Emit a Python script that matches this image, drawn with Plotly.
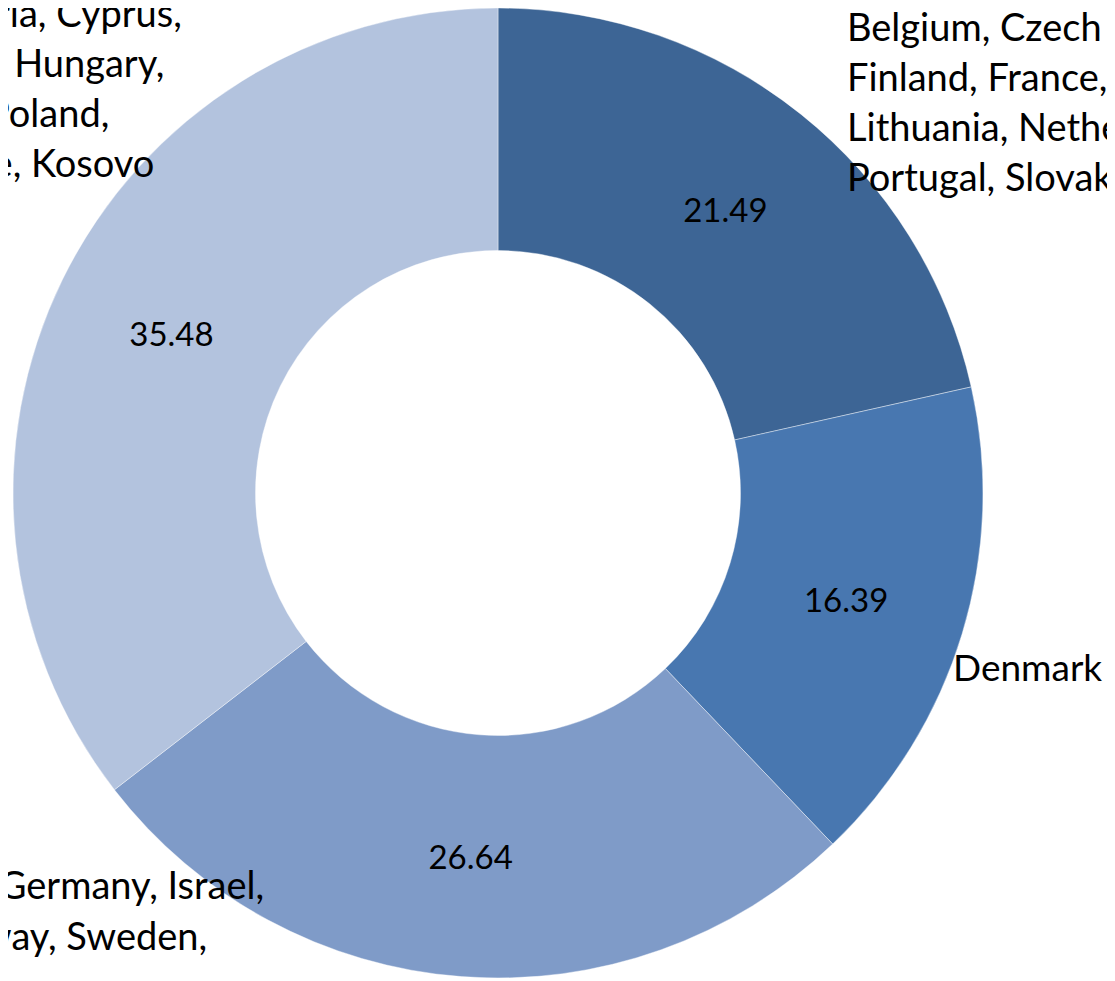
import plotly.graph_objects as go

# page body has an 8px margin, so the figure is drawn 8px in from the window corner
OFF = 8
W, H = 1115 - OFF, 981 - OFF

categories = ["Group A", "Denmark", "Group C", "Group D"]
values = [21.49, 16.39, 26.64, 35.48]
colors = ["#3D6595", "#4877B0", "#7F9BC8", "#B3C3DE"]

label_top_right = ["Belgium, Czech Republic,", "Finland, France, Latvia,",
                   "Lithuania, Netherlands,", "Portugal, Slovakia,"]
label_right = ["Denmark"]
label_bottom_left = ["Austria, Germany, Israel,", "Norway, Sweden,"]
label_top_left = ["Bulgaria, Cyprus,", "Croatia, Hungary,", "Poland,", "Ukraine, Kosovo"]

FONT = "Lato, Carlito, Calibri, sans-serif"
FS_OUT = 38
FS_IN = 33

# window-pixel geometry of the ring
cx, cy, R = 498, 493, 485
fx, fy = cx - OFF, cy - OFF

fig = go.Figure(go.Pie(
    labels=categories,
    values=values,
    hole=0.5,
    sort=False,
    direction="clockwise",
    rotation=0,
    marker=dict(colors=colors, line=dict(color="rgba(255,255,255,0.5)", width=0.8)),
    texttemplate="%{value:.2f}",
    textposition="inside",
    insidetextorientation="horizontal",
    textfont=dict(family=FONT, size=FS_IN, color="black"),
    domain=dict(x=[max(0, (fx - R) / W), (fx + R) / W],
                y=[max(0, 1 - (fy + R) / H), min(1, 1 - (fy - R) / H)]),
    showlegend=False,
    hoverinfo="label+value",
))


def add_line(text, xpx, ypx, anchor, size=FS_OUT):
    dx = -3 if anchor == "left" else 3
    fig.add_annotation(
        x=(xpx - OFF + dx) / W, y=1 - (ypx - OFF - 1) / H,
        xref="paper", yref="paper",
        text=text, showarrow=False, xanchor=anchor, yanchor="middle",
        align=anchor, font=dict(family=FONT, size=size, color="black"),
    )


for t, yy in zip(label_top_right, [27, 77, 127, 177]):
    add_line(t, 848, yy, "left")
for t in label_right:
    add_line(t, 954, 667, "left", size=37)
for t, xe, yy in zip(label_bottom_left, [263, 206], [885, 936]):
    add_line(t, xe, yy, "right")
for t, xe, yy in zip(label_top_left, [181, 164, 108, 153], [13, 63, 113, 163]):
    add_line(t, xe, yy, "right")

fig.update_layout(
    width=W, height=H,
    margin=dict(l=0, r=0, t=0, b=0),
    paper_bgcolor="white",
    plot_bgcolor="white",
)

fig.write_html("out.html")
